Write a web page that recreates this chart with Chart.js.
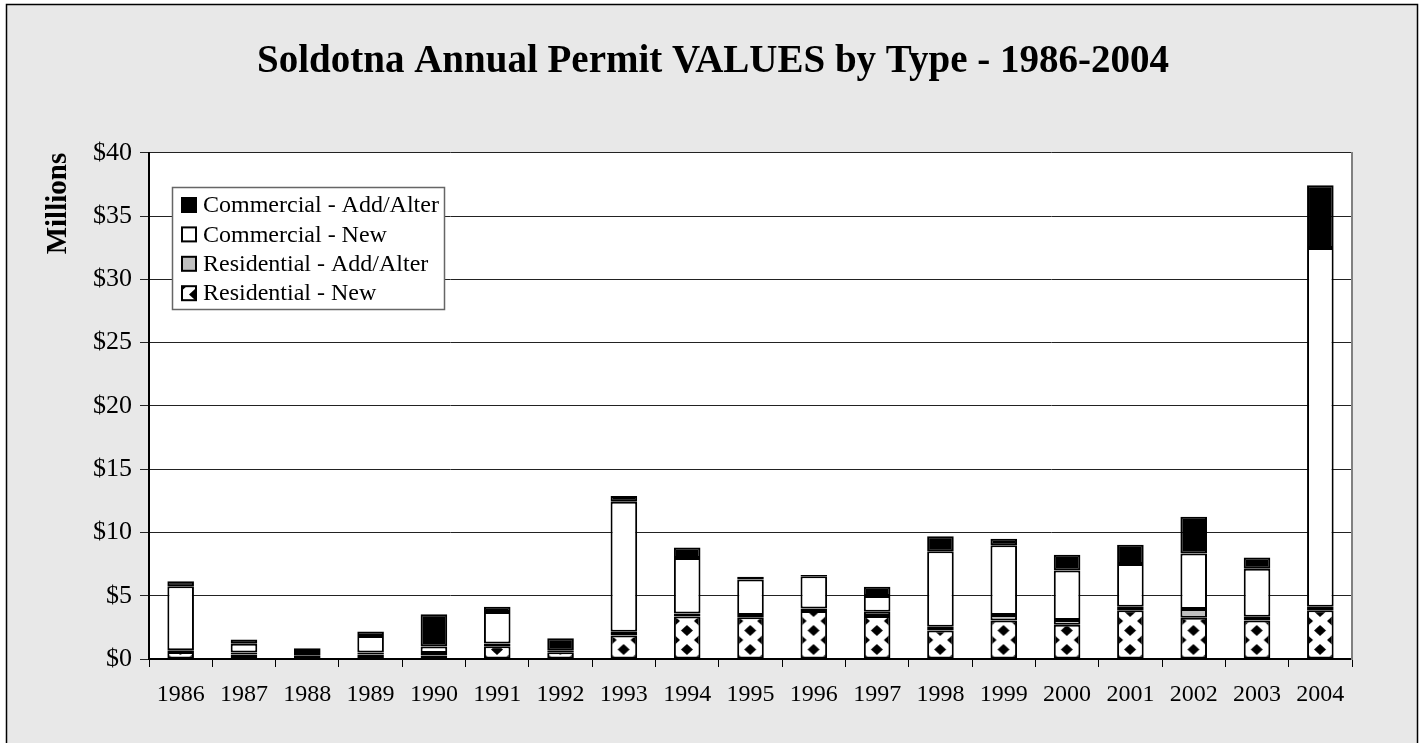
<!DOCTYPE html>
<html>
<head>
<meta charset="utf-8">
<title>Soldotna Annual Permit VALUES by Type</title>
<script src="https://cdn.jsdelivr.net/npm/chart.js@4.4.1/dist/chart.umd.min.js"></script>
<style>
    html, body { margin: 0; padding: 0; background: #fff; }
    #wrap { width: 1426px; height: 743px; }
</style>
</head>
<body>
<div id="wrap"><canvas id="myChart" width="1426" height="743"></canvas></div>
<script>
const years = ['1986', '1987', '1988', '1989', '1990', '1991', '1992', '1993', '1994', '1995',
    '1996', '1997', '1998', '1999', '2000', '2001', '2002', '2003', '2004']

// values in $ millions
const residentialNew = [0.55, 0.35, 0.25, 0.35, 0.28, 1.0, 0.54, 1.85, 3.35, 3.3,
    3.8, 3.4, 2.25, 3.05, 2.7, 3.85, 3.25, 3.05, 3.85]
const residentialAddAlter = [0.15, 0.16, 0.3, 0.16, 0.2, 0.23, 0.1, 0.3, 0.25, 0.18,
    0.2, 0.34, 0.3, 0.43, 0.38, 0.28, 0.7, 0.29, 0.28]
const commercialNew = [5.04, 0.69, 0, 1.3, 0.5, 2.48, 0.05, 10.27, 4.39, 2.81,
    2.53, 1.24, 5.96, 5.51, 3.92, 3.38, 4.38, 3.8, 28.35]
const commercialAddAlter = [0.41, 0.34, 0.3, 0.36, 2.56, 0.41, 0.95, 0.46, 0.83, 0.2,
    0.1, 0.72, 1.18, 0.51, 1.23, 1.52, 2.91, 0.89, 4.95]

const yTicks = [0, 5, 10, 15, 20, 25, 30, 35, 40]

const serif = "'Liberation Serif', 'Times New Roman', serif"
const barPct = 0.42

// diamond tile for "Residential - New"
const tile = document.createElement('canvas')
tile.width = 26
tile.height = 19
const tctx = tile.getContext('2d')
tctx.fillStyle = '#fff'
tctx.fillRect(0, 0, 26, 19)
tctx.fillStyle = '#000'
const diamond = (cx, cy) => {
    tctx.beginPath()
    tctx.moveTo(cx, cy - 5.5)
    tctx.lineTo(cx + 6, cy)
    tctx.lineTo(cx, cy + 5.5)
    tctx.lineTo(cx - 6, cy)
    tctx.closePath()
    tctx.fill()
}
;[[13, 9.5], [0, 0], [26, 0], [0, 19], [26, 19]].forEach(p => diamond(p[0], p[1]))

const patternFor = c => {
    const p = c.chart.ctx.createPattern(tile, 'repeat')
    if (c.type === 'data' && c.chart.scales.x) {
        const w = (c.chart.scales.x.width / years.length) * barPct
        const x = c.chart.scales.x.getPixelForValue(c.dataIndex) - w / 2
        const y = c.chart.scales.y.getPixelForValue(0)
        p.setTransform(new DOMMatrix().translate(x, y))
    }
    return p
}

const frame = {
    id: 'frame',
    beforeDraw: chart => {
        const ctx = chart.ctx
        const a = chart.chartArea
        ctx.save()
        ctx.fillStyle = '#fff'
        ctx.fillRect(0, 0, chart.width, chart.height)
        ctx.fillStyle = '#e8e8e8'
        ctx.fillRect(6, 4, 1412, 745)
        ctx.strokeStyle = '#000'
        ctx.lineWidth = 1.5
        ctx.strokeRect(6.5, 4.5, 1411, 745)
        ctx.fillStyle = '#fff'
        ctx.fillRect(a.left, a.top, a.right - a.left, a.bottom - a.top)
        ctx.restore()
    }
}

const boxLegend = {
    id: 'boxLegend',
    afterDraw: chart => {
        const ctx = chart.ctx
        ctx.save()
        ctx.fillStyle = '#fff'
        ctx.fillRect(172, 187, 273, 123)
        ctx.strokeStyle = '#666'
        ctx.lineWidth = 1.5
        ctx.strokeRect(172.5, 187.5, 272, 122)
        const items = chart.data.datasets.slice().reverse()
        items.forEach((ds, i) => {
            const cy = 205 + i * 29.4
            ctx.fillStyle = ds.legendFill === 'pattern' ? ctx.createPattern(tile, 'repeat') : ds.legendFill
            ctx.fillRect(182, cy - 7, 14, 14)
            ctx.strokeStyle = '#000'
            ctx.lineWidth = 2
            ctx.strokeRect(182, cy - 7, 14, 14)
            ctx.fillStyle = '#000'
            ctx.font = '24px ' + serif
            ctx.textBaseline = 'middle'
            ctx.textAlign = 'left'
            ctx.fillText(ds.label, 203, cy + 1)
        })
        ctx.restore()
    }
}

const barStyle = {
    borderColor: '#000',
    borderWidth: 2,
    borderSkipped: false,
    barPercentage: barPct,
    categoryPercentage: 1
}

const ctx = document.getElementById('myChart').getContext('2d')
const chart = new Chart(ctx, {
    type: 'bar',
    data: {
        labels: years,
        datasets: [
            { label: 'Residential - New', data: residentialNew, backgroundColor: patternFor, legendFill: 'pattern', ...barStyle },
            { label: 'Residential - Add/Alter', data: residentialAddAlter, backgroundColor: '#c0c0c0', legendFill: '#c0c0c0', ...barStyle },
            { label: 'Commercial - New', data: commercialNew, backgroundColor: '#fff', legendFill: '#fff', ...barStyle },
            { label: 'Commercial - Add/Alter', data: commercialAddAlter, backgroundColor: '#000', legendFill: '#000', ...barStyle }
        ]
    },
    options: {
        responsive: false,
        animation: false,
        layout: { padding: 0 },
        plugins: {
            legend: { display: false },
            tooltip: { enabled: false },
            title: {
                display: true,
                text: 'Soldotna Annual Permit VALUES by Type - 1986-2004',
                color: '#000',
                font: { family: serif, size: 39, weight: 'bold', lineHeight: 1.2 },
                padding: { top: 39, bottom: 67 }
            }
        },
        scales: {
            x: {
                stacked: true,
                afterFit: s => { s.height = 84 },
                grid: { display: true, drawOnChartArea: false, drawTicks: true, tickLength: 8, color: '#000', offset: true },
                border: { display: true, color: '#000', width: 2 },
                ticks: { color: '#000', padding: 13, maxRotation: 0, font: { family: serif, size: 24 } }
            },
            y: {
                stacked: true,
                min: 0,
                max: 40,
                afterFit: s => { s.width = 149 },
                afterBuildTicks: s => { s.ticks = yTicks.map(v => ({ value: v })) },
                grid: { color: '#222', lineWidth: 1, tickLength: 9 },
                border: { display: true, color: '#000', width: 2 },
                ticks: {
                    color: '#000',
                    padding: 8,
                    font: { family: serif, size: 26 },
                    callback: v => '$' + v
                },
                title: {
                    display: true,
                    text: 'Millions',
                    align: 'end',
                    color: '#000',
                    font: { family: serif, size: 29, weight: 'bold', lineHeight: 1.2 },
                    padding: { top: 41, bottom: 0 }
                }
            },
            y2: {
                position: 'right',
                display: true,
                afterFit: s => { s.width = 74 },
                grid: { display: false, drawTicks: false },
                border: { display: true, color: '#808080', width: 2 },
                ticks: { display: false }
            }
        }
    },
    plugins: [frame, boxLegend]
})
</script>
</body>
</html>
